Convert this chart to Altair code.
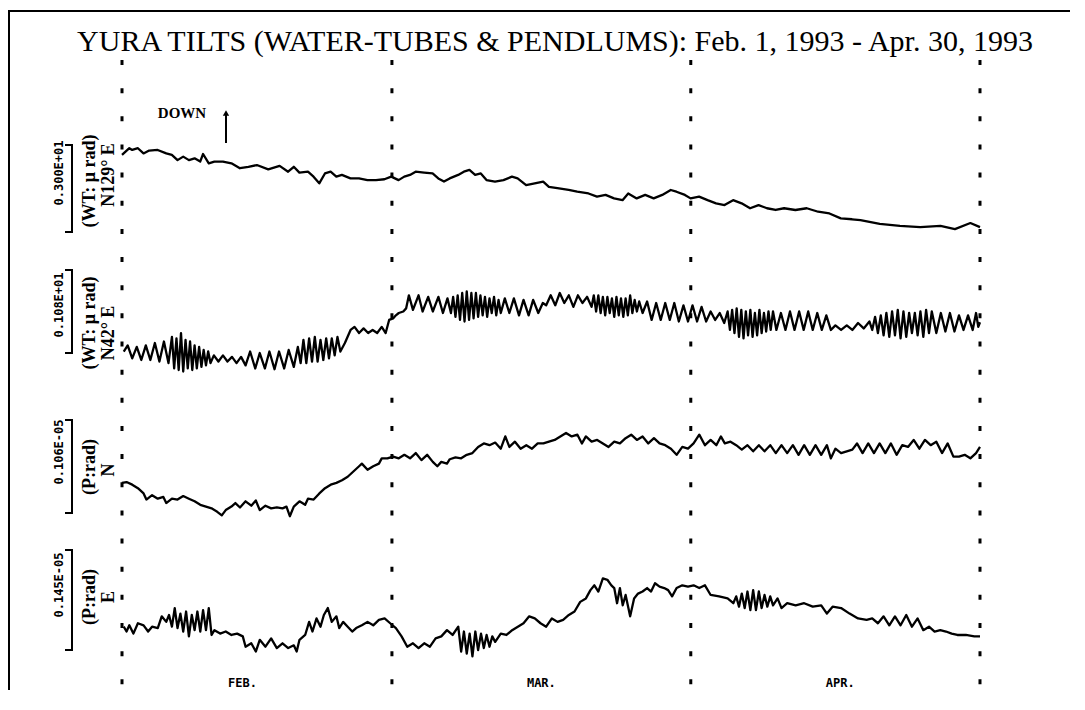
import altair as alt
import pandas as pd

# ---------------- data (day 0 = 1993-02-01 00:00, day 89 = end of Apr 30) -------------
# N129°E water-tube tilt (micro-radian, "DOWN" positive)
n129_day = [0.00,0.76,1.06,1.65,2.23,2.82,3.70,4.59,5.17,5.76,6.35,6.94,7.53,8.11,8.41,9.00,9.58,10.47,11.35,12.23,
            13.11,13.99,15.17,16.35,17.23,17.82,18.40,19.29,19.87,20.46,21.05,21.64,22.23,22.81,23.70,24.58,25.46,26.34,27.22,27.93,
            28.69,29.28,29.87,30.46,31.34,32.22,32.81,33.40,33.99,34.87,35.46,36.04,36.63,37.22,37.81,38.69,39.57,40.45,41.04,41.92,
            42.81,43.69,44.28,45.16,46.33,47.22,48.39,49.27,50.16,51.04,51.92,52.51,53.39,54.27,55.15,56.04,56.92,57.51,58.39,58.98,
            59.86,60.74,61.62,62.50,63.39,64.27,65.15,66.03,66.91,67.80,68.68,69.85,71.03,72.21,73.38,74.56,75.73,76.6,78.6,80.7,
            82.8,84.9,86.4,88.0,89.0]
n129_val = [2.59,2.82,2.76,2.82,2.64,2.74,2.76,2.64,2.59,2.41,2.53,2.41,2.47,2.36,2.62,2.30,2.36,2.36,2.30,2.13,
            2.18,2.24,2.09,2.21,2.01,2.18,1.98,2.01,1.84,1.61,1.95,2.01,1.84,1.90,1.78,1.78,1.72,1.72,1.75,1.84,
            1.72,1.84,1.90,2.01,1.98,1.95,1.78,1.67,1.78,1.90,2.01,2.07,1.90,1.95,1.72,1.67,1.72,1.84,1.78,1.55,
            1.61,1.67,1.49,1.44,1.38,1.32,1.26,1.15,1.21,1.09,1.03,1.26,1.09,1.21,1.09,1.21,1.38,1.32,1.21,1.09,
            1.15,1.03,0.92,0.86,1.03,0.92,0.75,0.86,0.75,0.69,0.75,0.69,0.75,0.63,0.57,0.40,0.37,0.34,0.21,0.14,
            0.10,0.14,0.03,0.24,0.10]

# N42°E water-tube tilt (micro-radian)
n42_day = [0.18,0.59,1.06,1.53,2.00,2.47,2.94,3.41,3.88,4.35,4.82,5.18,5.41,5.65,5.88,6.12,6.35,6.59,6.82,7.06,
           7.29,7.53,7.76,8.00,8.24,8.47,8.71,8.94,9.18,9.53,10.00,10.47,10.94,11.41,11.88,12.35,12.82,13.29,13.82,14.29,
           14.82,15.29,15.82,16.29,16.82,17.29,17.82,18.24,18.53,18.82,19.12,19.41,19.71,20.00,20.29,20.59,20.88,21.18,21.47,21.76,
           22.06,22.35,22.65,23.12,23.71,24.12,24.59,25.06,25.53,26.00,26.47,26.94,27.35,27.71,28.12,28.41,28.71,29.18,29.47,29.76,
           30.18,30.76,31.18,31.76,32.24,32.82,33.29,33.76,34.12,34.35,34.59,34.82,35.06,35.29,35.53,35.76,36.00,36.24,36.47,36.71,
           36.94,37.18,37.41,37.65,37.88,38.12,38.35,38.59,38.82,39.06,39.29,39.71,40.18,40.65,41.18,41.65,42.18,42.65,43.18,43.65,
           44.00,44.47,44.94,45.41,45.88,46.35,46.82,47.29,47.76,48.24,48.71,48.94,49.18,49.41,49.65,49.88,50.12,50.35,50.59,50.82,
           51.06,51.29,51.53,51.76,52.00,52.24,52.47,52.71,52.94,53.18,53.41,53.65,54.00,54.47,54.94,55.41,55.88,56.35,56.82,57.29,
           57.76,58.24,58.71,59.18,59.65,60.12,60.59,61.06,61.53,62.00,62.47,62.82,63.06,63.29,63.53,63.76,64.00,64.24,64.47,64.71,
           64.94,65.18,65.41,65.65,65.88,66.12,66.35,66.59,66.82,67.06,67.29,67.53,67.88,68.35,68.82,69.29,69.76,70.24,70.71,71.18,
           71.65,72.12,72.59,73.06,73.53,74.00,74.59,75.18,75.76,76.35,76.94,77.53,77.82,78.12,78.41,78.71,79.00,79.29,79.59,79.88,
           80.18,80.47,80.76,81.06,81.35,81.65,81.94,82.24,82.53,82.82,83.12,83.41,83.71,84.00,84.47,84.94,85.41,85.88,86.35,86.82,
           87.29,87.76,88.24,88.59,88.82,89.00]
n42_val = [0.37,0.45,0.28,0.43,0.26,0.45,0.26,0.48,0.24,0.50,0.22,0.56,0.15,0.54,0.13,0.61,0.11,0.52,0.15,0.50,
           0.13,0.45,0.15,0.43,0.17,0.39,0.19,0.37,0.22,0.32,0.24,0.32,0.24,0.30,0.22,0.30,0.19,0.37,0.15,0.35,
           0.15,0.37,0.14,0.37,0.15,0.39,0.17,0.43,0.22,0.52,0.22,0.54,0.24,0.56,0.24,0.52,0.26,0.54,0.28,0.54,
           0.32,0.56,0.37,0.48,0.65,0.69,0.61,0.67,0.61,0.65,0.61,0.69,0.61,0.78,0.80,0.84,0.87,0.89,0.93,1.10,
           0.91,1.10,0.89,1.08,0.89,1.08,0.87,1.06,0.87,1.08,0.82,1.10,0.78,1.13,0.76,1.15,0.78,1.13,0.80,1.13,
           0.82,1.10,0.84,1.08,0.82,1.06,0.87,1.08,0.84,1.04,0.87,1.06,0.87,1.06,0.84,1.04,0.84,1.04,0.87,1.00,
           0.97,1.10,0.97,1.13,1.00,1.10,0.95,1.10,1.00,1.08,0.95,1.10,0.89,1.10,0.87,1.08,0.84,1.08,0.87,1.06,
           0.82,1.08,0.84,1.06,0.82,1.06,0.84,1.10,0.87,1.04,0.89,1.02,0.87,1.02,0.78,1.00,0.78,1.00,0.78,1.00,
           0.76,0.97,0.76,0.97,0.76,0.95,0.76,0.89,0.78,0.87,0.74,0.89,0.65,0.91,0.61,0.93,0.56,0.91,0.54,0.89,
           0.58,0.91,0.56,0.87,0.58,0.91,0.61,0.87,0.63,0.89,0.65,0.89,0.65,0.87,0.65,0.89,0.65,0.89,0.65,0.89,
           0.65,0.87,0.65,0.84,0.65,0.71,0.65,0.71,0.65,0.74,0.67,0.76,0.65,0.82,0.61,0.84,0.58,0.87,0.56,0.89,
           0.58,0.91,0.54,0.89,0.56,0.87,0.61,0.87,0.58,0.89,0.56,0.91,0.61,0.89,0.61,0.87,0.63,0.87,0.63,0.84,
           0.65,0.84,0.65,0.87,0.69,0.75]

# N pendulum tilt (micro-radian)
pn_day = [0.00,0.47,1.06,1.65,2.24,2.53,3.12,3.71,4.29,4.59,5.18,5.76,6.35,6.94,7.53,8.12,8.71,9.29,9.88,10.35,
          10.76,11.35,11.76,12.24,12.82,13.41,13.88,14.29,14.88,15.47,16.06,16.65,17.06,17.41,17.82,18.41,19.00,19.29,19.88,20.47,
          21.06,21.65,22.24,22.82,23.41,24.00,24.59,24.88,25.47,26.06,26.65,26.94,27.53,28.12,28.71,29.29,29.88,30.47,31.06,31.65,
          32.24,32.71,33.12,33.71,34.00,34.59,35.18,35.76,36.35,36.94,37.53,38.12,38.71,39.29,39.76,40.18,40.76,41.35,41.94,42.53,
          43.12,43.71,44.29,44.88,45.47,46.06,46.65,47.24,47.71,48.12,48.71,49.29,49.88,50.47,51.06,51.65,52.24,52.82,53.41,54.00,
          54.59,55.18,55.76,56.35,56.94,57.53,58.12,58.71,59.29,59.88,60.47,61.06,61.65,62.12,62.53,63.12,63.71,64.29,64.88,65.47,
          66.06,66.65,67.24,67.82,68.41,69.00,69.59,70.18,70.76,71.35,71.94,72.53,73.12,73.53,74.00,74.59,75.18,75.76,76.24,76.82,
          77.41,78.00,78.59,79.18,79.76,80.35,80.94,81.53,82.12,82.71,83.29,83.88,84.47,85.06,85.65,86.24,86.82,87.41,88.00,88.59,
          89.00]
pn_val = [0.48,0.49,0.46,0.42,0.36,0.29,0.34,0.30,0.32,0.25,0.30,0.29,0.33,0.30,0.27,0.23,0.21,0.19,0.15,0.11,
          0.17,0.21,0.25,0.20,0.27,0.22,0.28,0.17,0.22,0.19,0.20,0.19,0.21,0.10,0.21,0.27,0.23,0.30,0.29,0.36,
          0.42,0.46,0.48,0.51,0.55,0.61,0.67,0.70,0.63,0.67,0.70,0.76,0.76,0.78,0.76,0.80,0.76,0.82,0.74,0.80,
          0.72,0.67,0.72,0.70,0.75,0.77,0.76,0.80,0.82,0.89,0.93,0.91,0.94,0.87,1.01,0.89,0.95,0.87,0.91,0.87,
          0.93,0.93,0.95,0.97,1.01,1.05,1.01,1.03,0.93,1.01,0.95,0.97,0.93,0.89,0.95,0.93,0.99,1.03,0.97,1.01,
          0.93,0.99,0.93,0.91,0.87,0.80,0.89,0.87,0.93,1.03,0.91,0.97,0.91,1.01,0.93,0.95,0.91,0.86,0.91,0.84,
          0.91,0.84,0.91,0.82,0.91,0.82,0.91,0.80,0.91,0.80,0.91,0.80,0.91,0.76,0.87,0.82,0.84,0.86,0.93,0.82,
          0.93,0.82,0.93,0.82,0.93,0.80,0.91,0.89,0.97,0.87,0.97,0.91,0.95,0.82,0.93,0.78,0.78,0.80,0.76,0.82,
          0.89]

# E pendulum tilt (micro-radian)
pe_day = [0.18,0.47,0.76,1.18,1.65,2.24,2.71,3.12,3.71,4.12,4.59,4.88,5.18,5.47,5.76,6.06,6.35,6.65,6.94,7.24,
          7.53,7.82,8.12,8.41,8.71,9.00,9.29,9.59,10.18,10.76,11.35,11.94,12.53,12.82,13.41,13.88,14.29,14.88,15.47,16.06,
          16.65,17.24,17.82,18.12,18.41,19.00,19.41,19.76,20.18,20.59,20.94,21.35,21.76,22.24,22.53,22.94,23.41,23.88,24.29,24.88,
          25.47,26.06,26.65,27.24,27.82,28.41,29.00,29.59,30.18,30.76,31.35,31.94,32.53,33.12,33.71,34.29,34.88,35.18,35.47,35.76,
          36.06,36.35,36.65,36.94,37.24,37.53,37.82,38.12,38.41,38.71,39.29,39.88,40.47,41.06,41.65,42.24,42.82,43.41,44.00,44.59,
          45.18,45.76,46.35,46.94,47.53,48.12,48.59,49.00,49.41,49.88,50.35,50.76,51.06,51.35,51.65,51.94,52.24,52.71,53.12,53.53,
          54.00,54.47,54.88,55.29,55.76,56.24,56.65,57.06,57.53,58.12,58.71,59.29,59.88,60.47,61.06,61.94,62.82,63.41,63.71,64.00,
          64.29,64.59,64.88,65.18,65.47,65.76,66.06,66.35,66.65,66.94,67.24,67.53,68.00,68.41,69.00,69.88,70.76,71.65,72.53,73.12,
          73.71,74.59,75.47,76.35,77.24,77.82,78.41,79.00,79.59,80.18,80.76,81.35,81.94,82.53,83.12,83.71,84.29,84.88,85.47,86.06,
          86.65,87.53,88.41,89.00]
pe_val = [0.70,0.63,0.72,0.60,0.75,0.72,0.63,0.70,0.68,0.85,0.77,0.87,0.70,0.97,0.68,0.89,0.63,0.92,0.56,0.87,
          0.65,0.92,0.63,0.94,0.65,0.97,0.58,0.65,0.60,0.63,0.58,0.60,0.56,0.41,0.46,0.34,0.51,0.41,0.53,0.39,
          0.46,0.39,0.43,0.34,0.51,0.58,0.77,0.63,0.82,0.70,0.87,0.97,0.77,0.85,0.68,0.77,0.70,0.63,0.68,0.72,
          0.77,0.72,0.80,0.82,0.75,0.68,0.56,0.41,0.46,0.39,0.46,0.41,0.53,0.56,0.65,0.58,0.70,0.34,0.63,0.31,
          0.60,0.27,0.63,0.36,0.60,0.39,0.58,0.41,0.56,0.48,0.60,0.58,0.65,0.70,0.75,0.85,0.82,0.75,0.70,0.82,
          0.77,0.80,0.87,0.92,1.06,1.11,1.23,1.30,1.21,1.40,1.38,1.30,1.26,1.04,1.26,1.01,1.16,0.85,1.11,1.18,
          1.21,1.26,1.21,1.33,1.28,1.26,1.23,1.14,1.26,1.30,1.28,1.30,1.26,1.30,1.16,1.14,1.11,1.04,1.14,0.99,
          1.18,0.97,1.21,0.94,1.23,0.94,1.21,0.97,1.16,0.99,1.14,1.01,1.11,0.97,1.04,1.01,1.04,0.99,1.01,0.89,
          0.99,0.97,0.89,0.82,0.80,0.82,0.75,0.85,0.72,0.85,0.72,0.87,0.70,0.82,0.65,0.70,0.63,0.65,0.63,0.60,
          0.58,0.58,0.56,0.56]

month_names = ["FEB.", "MAR.", "APR."]
month_label_day = [12.5, 43.5, 74.5]
month_start_day = [0, 28, 59, 89]

scale_labels = ["0.300E+01", "0.108E+01", "0.106E-05", "0.145E-05"]
unit_labels = ["(WT: \u03bc rad)", "(WT: \u03bc rad)", "(P:rad)", "(P:rad)"]
dir_labels = ["N129\u00b0  E", "N42\u00b0  E", "N", "E"]

TITLE = "YURA TILTS (WATER-TUBES & PENDLUMS):  Feb. 1, 1993 - Apr. 30, 1993"

# ---------------- layout ----------------
W, H = 1062, 682
PX_PER_DAY = 9.6404
X0 = 114  # pixel of day 0
X_DOMAIN = [-X0 / PX_PER_DAY, (W - X0) / PX_PER_DAY]

# (zero-level pixel, pixels per unit, bracket top, bracket bottom, label centres)
layout = [
    dict(y0=222, ppu=29.0, bt=137, bb=224, c1=165, c2=173, c3=167),
    dict(y0=372, ppu=77.0, bt=262, bb=345, c1=297, c2=315, c3=325),
    dict(y0=517, ppu=87.7, bt=412, bb=505, c1=444, c2=459, c3=462),
    dict(y0=667, ppu=69.0, bt=542, bb=642, c1=577, c2=589, c3=589),
]
series = [(n129_day, n129_val), (n42_day, n42_val), (pn_day, pn_val), (pe_day, pe_val)]

xscale = alt.Scale(domain=X_DOMAIN, nice=False, zero=False)
one = pd.DataFrame({"k": [0]})

layers = []

# frame lines (top and left edge of the sheet)
layers.append(alt.Chart(one).mark_rule(color="black", strokeWidth=2).encode(
    x=alt.value(0), x2=alt.value(W + 40), y=alt.value(3)))
layers.append(alt.Chart(one).mark_rule(color="black", strokeWidth=2).encode(
    x=alt.value(1), y=alt.value(3), y2=alt.value(H + 40)))

# dotted month separators
sep = pd.DataFrame({"day": month_start_day})
layers.append(alt.Chart(sep).mark_rule(color="black", strokeWidth=3, strokeDash=[5, 23.15]).encode(
    x=alt.X("day:Q", scale=xscale, axis=None), y=alt.value(52), y2=alt.value(H)))

# traces
for (d, v), lay in zip(series, layout):
    df = pd.DataFrame({"day": d, "val": v})
    dom = [(lay["y0"] - H) / lay["ppu"], lay["y0"] / lay["ppu"]]
    layers.append(alt.Chart(df).mark_line(color="black", strokeWidth=2.3, strokeJoin="round").encode(
        x=alt.X("day:Q", scale=xscale, axis=None),
        y=alt.Y("val:Q", scale=alt.Scale(domain=dom, nice=False, zero=False), axis=None)))

# scale brackets and left labels
for i, lay in enumerate(layout):
    layers.append(alt.Chart(one).mark_rule(color="black", strokeWidth=2).encode(
        x=alt.value(64), y=alt.value(lay["bt"]), y2=alt.value(lay["bb"])))
    for yy in (lay["bt"], lay["bb"]):
        layers.append(alt.Chart(one).mark_rule(color="black", strokeWidth=2).encode(
            x=alt.value(57), x2=alt.value(65), y=alt.value(yy)))
    layers.append(alt.Chart(one).mark_text(angle=270, font="DejaVu Sans Mono", fontWeight="bold",
                                           fontSize=12, align="center", baseline="middle").encode(
        x=alt.value(51), y=alt.value(lay["c1"]), text=alt.value(scale_labels[i])))
    layers.append(alt.Chart(one).mark_text(angle=270, font="Liberation Serif", fontWeight="bold",
                                           fontSize=18, align="center", baseline="middle").encode(
        x=alt.value(82), y=alt.value(lay["c2"]), text=alt.value(unit_labels[i])))
    layers.append(alt.Chart(one).mark_text(angle=270, font="Liberation Serif", fontWeight="bold",
                                           fontSize=18, align="center", baseline="middle").encode(
        x=alt.value(101), y=alt.value(lay["c3"]), text=alt.value(dir_labels[i])))

# month labels
mdf = pd.DataFrame({"day": month_label_day, "m": month_names})
layers.append(alt.Chart(mdf).mark_text(font="DejaVu Sans Mono", fontWeight="bold", fontSize=12,
                                       baseline="bottom").encode(
    x=alt.X("day:Q", scale=xscale, axis=None), y=alt.value(H), text="m:N"))

# title
layers.append(alt.Chart(one).mark_text(font="Liberation Serif", fontSize=30, align="center",
                                       baseline="alphabetic").encode(
    x=alt.value(547), y=alt.value(43), text=alt.value(TITLE)))

# DOWN arrow
layers.append(alt.Chart(one).mark_text(font="Liberation Serif", fontWeight="bold", fontSize=15,
                                       align="center", baseline="alphabetic").encode(
    x=alt.value(174), y=alt.value(110), text=alt.value("DOWN")))
layers.append(alt.Chart(one).mark_rule(color="black", strokeWidth=2).encode(
    x=alt.value(218), y=alt.value(106), y2=alt.value(135)))
layers.append(alt.Chart(one).mark_point(shape="triangle-up", filled=True, color="black", size=40, opacity=1).encode(
    x=alt.value(218), y=alt.value(105)))

# white strip along the right edge of the drawing
layers.append(alt.Chart(one).mark_rule(color="white", strokeWidth=5).encode(
    x=alt.value(W - 1), y=alt.value(5), y2=alt.value(H + 10)))

chart = alt.layer(*layers).resolve_scale(y="independent").properties(
    width=W, height=H, padding=0, autosize=alt.AutoSizeParams(type="none"),
    background="white",
    view=alt.ViewBackground(stroke="transparent", strokeWidth=0, strokeOpacity=0)
).configure_view(stroke="transparent", strokeWidth=0, strokeOpacity=0)

chart.save("out.html", embed_options={"renderer": "svg", "actions": False})
